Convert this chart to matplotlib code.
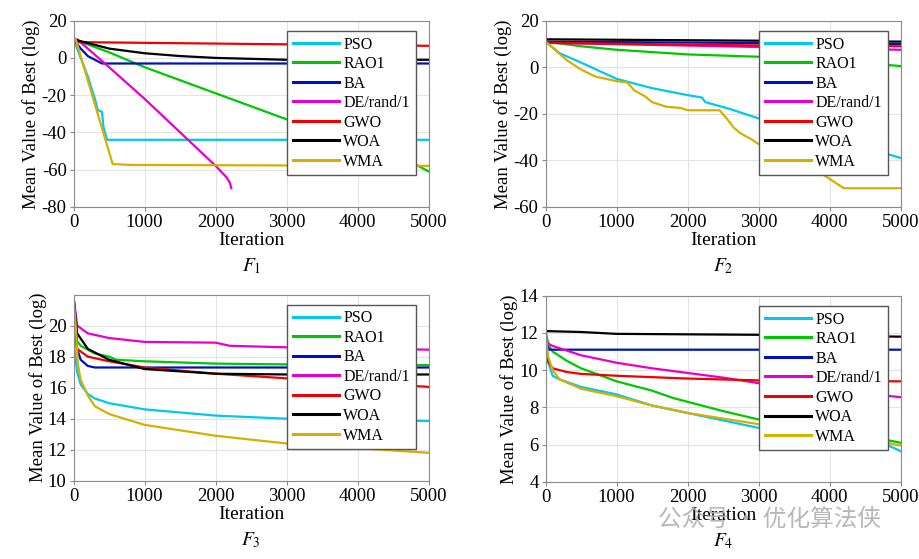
import matplotlib
matplotlib.use("Agg")
import matplotlib.pyplot as plt

plt.rcParams["font.family"] = ["Liberation Serif", "DejaVu Serif"]
plt.rcParams["mathtext.fontset"] = "stix"
plt.rcParams["axes.unicode_minus"] = False

names = ["PSO", "RAO1", "BA", "DE/rand/1", "GWO", "WOA", "WMA"]
colors = ["#00c8f0", "#00c800", "#0010c0", "#e600d0", "#f00000", "#000000", "#d4b000"]

# F1: (iteration, value) pairs
f1_pso = [(0, 10), (100, 0), (200, -10), (300, -22), (340, -28), (400, -29), (420, -37), (470, -44), (5000, -44)]
f1_rao = [(0, 10), (500, 3), (1000, -5), (2000, -19), (3000, -33), (4000, -46), (4800, -57), (5000, -61)]
f1_ba = [(0, 10), (100, 5), (200, 1), (300, -1), (400, -3), (500, -3), (5000, -3)]
f1_de = [(0, 10), (50, 10), (500, -5), (1000, -22), (1500, -40), (2000, -58), (2150, -64), (2200, -67), (2220, -70)]
f1_gwo = [(0, 8.5), (2500, 7.5), (5000, 6.5)]
f1_woa = [(0, 10), (500, 5), (1000, 2.5), (1500, 1), (2000, 0), (2500, -0.5), (3000, -1), (5000, -1)]
f1_wma = [(0, 11), (30, 10), (300, -25), (550, -57), (800, -57.5), (5000, -58)]

# F2
f2_pso = [(0, 11), (200, 6), (500, 2), (1000, -5), (1500, -9), (2000, -12), (2200, -13), (2250, -15),
          (2600, -18), (3000, -22), (4000, -30), (5000, -39)]
f2_rao = [(0, 11), (500, 9), (1000, 7.5), (2000, 5.5), (3000, 4.5), (4000, 3), (5000, 0.5)]
f2_ba = [(0, 11), (2500, 10.5), (5000, 10)]
f2_de = [(0, 10.5), (2500, 9), (5000, 7.5)]
f2_gwo = [(0, 10.5), (2500, 9.5), (5000, 9)]
f2_woa = [(0, 12), (2500, 11.5), (5000, 11)]
f2_wma = [(0, 11), (300, 3), (500, -1), (700, -4), (1000, -6), (1150, -6.5), (1250, -10), (1400, -12.5),
          (1500, -15), (1700, -17), (1900, -17.5), (2000, -18.5), (2450, -18.5), (2550, -22), (2650, -26),
          (2750, -28.5), (2900, -31), (3000, -33), (3500, -38), (3800, -44), (4000, -48), (4200, -52), (5000, -52)]

# F3
f3_pso = [(0, 19), (50, 17), (100, 16.2), (200, 15.6), (300, 15.3), (500, 15.0), (1000, 14.6),
          (2000, 14.2), (3000, 14.0), (5000, 13.85)]
f3_rao = [(0, 21.8), (50, 19), (100, 18.7), (300, 18.2), (500, 18), (600, 17.8), (1000, 17.7),
          (2000, 17.55), (3000, 17.5), (5000, 17.45)]
f3_ba = [(0, 21.8), (50, 18.5), (100, 17.8), (200, 17.4), (300, 17.3), (5000, 17.3)]
f3_de = [(0, 21.8), (50, 20), (200, 19.5), (500, 19.2), (1000, 18.95), (2000, 18.9), (2200, 18.7),
         (3000, 18.6), (5000, 18.45)]
f3_gwo = [(0, 20), (50, 18.5), (200, 18.0), (500, 17.7), (1000, 17.3), (2000, 16.9), (3000, 16.6), (5000, 16.05)]
f3_woa = [(0, 21.8), (50, 19.5), (200, 18.5), (500, 17.8), (1000, 17.2), (2000, 16.9), (3000, 16.85), (5000, 16.85)]
f3_wma = [(0, 21.8), (30, 20), (60, 17.5), (100, 16.5), (200, 15.5), (300, 14.8), (500, 14.3),
          (1000, 13.6), (2000, 12.9), (3000, 12.4), (4000, 12.1), (5000, 11.8)]

# F4
f4_pso = [(0, 12), (30, 10.5), (100, 9.7), (200, 9.5), (500, 9.1), (1000, 8.7), (1500, 8.1),
          (2000, 7.7), (2500, 7.3), (3000, 6.9), (4800, 6.0), (5000, 5.65)]
f4_rao = [(0, 12), (50, 11.3), (100, 11), (300, 10.5), (500, 10.1), (1000, 9.4), (1500, 8.9),
          (1800, 8.5), (2000, 8.3), (2500, 7.8), (3000, 7.35), (4800, 6.25), (5000, 6.1)]
f4_ba = [(0, 11.5), (50, 11.1), (5000, 11.1)]
f4_de = [(0, 11.5), (100, 11.3), (500, 10.8), (1000, 10.4), (1500, 10.1), (2000, 9.85), (2500, 9.6),
         (3000, 9.3), (5000, 8.55)]
f4_gwo = [(0, 12.4), (30, 10.5), (100, 10.1), (300, 9.9), (500, 9.8), (1000, 9.7), (2000, 9.55),
          (3000, 9.45), (5000, 9.4)]
f4_woa = [(0, 12.1), (500, 12.05), (1000, 11.95), (3000, 11.9), (5000, 11.8)]
f4_wma = [(0, 12.3), (30, 10.8), (100, 10), (200, 9.5), (500, 9.0), (1000, 8.6), (1500, 8.1),
          (2000, 7.7), (2500, 7.4), (3000, 7.1), (4800, 6.1), (5000, 5.95)]

panels = [
    ([f1_pso, f1_rao, f1_ba, f1_de, f1_gwo, f1_woa, f1_wma], (-80, 20), range(-80, 21, 20), "$F_1$"),
    ([f2_pso, f2_rao, f2_ba, f2_de, f2_gwo, f2_woa, f2_wma], (-60, 20), range(-60, 21, 20), "$F_2$"),
    ([f3_pso, f3_rao, f3_ba, f3_de, f3_gwo, f3_woa, f3_wma], (10, 22), range(10, 21, 2), "$F_3$"),
    ([f4_pso, f4_rao, f4_ba, f4_de, f4_gwo, f4_woa, f4_wma], (4, 14), range(4, 15, 2), "$F_4$"),
]
boxes = [(0.080, 0.630), (0.593, 0.630), (0.080, 0.140), (0.593, 0.138)]

fig = plt.figure(figsize=(9.2, 5.59), dpi=100)
for (series, ylim, yticks, tag), (x0, y0) in zip(panels, boxes):
    ax = fig.add_axes([x0, y0, 0.386, 0.333])
    for s, name, c in zip(series, names, colors):
        ax.plot([p[0] for p in s], [p[1] for p in s], color=c, lw=1.6, label=name)
    ax.set_xlim(0, 5000)
    ax.set_ylim(*ylim)
    ax.set_xticks(range(0, 5001, 1000))
    ax.set_yticks(list(yticks))
    ax.grid(True, color="#e3e3e3", lw=0.8)
    ax.set_axisbelow(True)
    for sp in ax.spines.values():
        sp.set_color("#8a8a8a")
    ax.tick_params(labelsize=13.5, length=3, color="#8a8a8a", pad=2)
    ax.set_xlabel("Iteration", fontsize=14, labelpad=1)
    ax.set_ylabel("Mean Value of Best (log)", fontsize=13.5, labelpad=1)
    ax.text(0.5, -0.32, tag, transform=ax.transAxes, ha="center", va="center", fontsize=14)
    leg = ax.legend(loc="upper right", bbox_to_anchor=(0.963, 0.945), borderaxespad=0, fontsize=11.5,
                    handlelength=2.9, labelspacing=0.22, borderpad=0.35, handletextpad=0.25,
                    fancybox=False, framealpha=1)
    leg.get_frame().set_edgecolor("#555555")
    for ln in leg.get_lines():
        ln.set_linewidth(2.2)

fig.text(0.715, 0.07, "公众号 · 优化算法侠", fontsize=17, color="#b0b0b0", alpha=0.9,
         family=["Noto Sans CJK SC", "DejaVu Sans"], va="center", ha="left")

fig.savefig("out.png", dpi=100)
